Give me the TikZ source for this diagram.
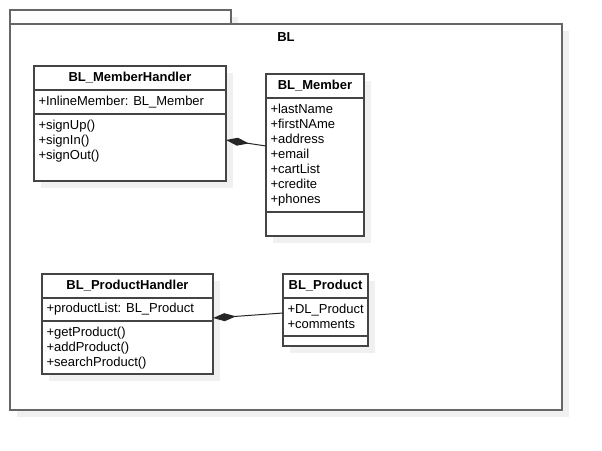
\documentclass[tikz,border=0pt]{standalone}
\usepackage{fontspec}
\setmainfont{Liberation Sans}
\usetikzlibrary{arrows.meta, positioning, backgrounds}

\definecolor{umlline}{HTML}{444444}
\definecolor{pkgline}{HTML}{666666}
\definecolor{umlshadow}{HTML}{F0F0F0}

\begin{document}
\begin{tikzpicture}[
  x=1pt, y=-1pt,
  every node/.style={font=\fontsize{13}{15}\selectfont, inner sep=0pt, outer sep=0pt},
  pkgbox/.style={draw=pkgline, line width=1.2pt},
  pkgtitle/.style={font=\fontsize{13}{15}\selectfont\bfseries},
  classhead/.style={draw=umlline, line width=1.1pt, fill=white, minimum height=24pt, font=\fontsize{13}{15}\selectfont\bfseries},
  classpart/.style={draw=umlline, line width=1.1pt, fill=white},
  members/.style={align=left, anchor=north west},
  compose/.style={{Diamond[length=23pt, width=8pt]}-, line width=1pt, black!85},
]
\useasboundingbox (0,0) rectangle (602,450);

% Package
\node[pkgbox, anchor=north west, minimum width=552pt, minimum height=386pt] (bl) at (10,24) {};
\node[pkgbox, anchor=south west, minimum width=221pt, minimum height=14pt] (bltab) at (bl.north west) {};
\node[pkgtitle, below=9pt of bl.north] (bltitle) {BL};

% BL_MemberHandler
\node[classhead, anchor=north west, minimum width=192pt] (mhHead) at (34,66) {BL\_MemberHandler};
\node[classpart, below=0pt of mhHead, minimum width=192pt, minimum height=24pt] (mhAttr) {};
\node[classpart, below=0pt of mhAttr, minimum width=192pt, minimum height=67pt] (mhOps) {};
\node[members] (mhAttrText) at ([shift={(4.5,6)}]mhAttr.north west) {+InlineMember: BL\_Member};
\node[members] (mhOpsText) at ([shift={(4.5,6)}]mhOps.north west) {+signUp()\\+signIn()\\+signOut()};

% BL_Member
\node[classhead, anchor=north west, minimum width=98pt] (mHead) at (266,74) {BL\_Member};
\node[classpart, below=0pt of mHead, minimum width=98pt, minimum height=114pt] (mAttr) {};
\node[classpart, below=0pt of mAttr, minimum width=98pt, minimum height=24pt] (mOps) {};
\node[members] (mAttrText) at ([shift={(4.5,6.5)}]mAttr.north west)
  {+lastName\\+firstNAme\\+address\\+email\\+cartList\\+credite\\+phones};

% BL_ProductHandler
\node[classhead, anchor=north west, minimum width=171pt] (phHead) at (42,274) {BL\_ProductHandler};
\node[classpart, below=0pt of phHead, minimum width=171pt, minimum height=23pt] (phAttr) {};
\node[classpart, below=0pt of phAttr, minimum width=171pt, minimum height=53pt] (phOps) {};
\node[members] (phAttrText) at ([shift={(4.5,5.5)}]phAttr.north west) {+productList: BL\_Product};
\node[members] (phOpsText) at ([shift={(4.5,6)}]phOps.north west) {+getProduct()\\+addProduct()\\+searchProduct()};

% BL_Product
\node[classhead, anchor=north west, minimum width=85pt] (pHead) at (283,274) {BL\_Product};
\node[classpart, below=0pt of pHead, minimum width=85pt, minimum height=38pt] (pAttr) {};
\node[classpart, below=0pt of pAttr, minimum width=85pt, minimum height=10pt] (pOps) {};
\node[members] (pAttrText) at ([shift={(4.5,6)}]pAttr.north west) {+DL\_Product\\+comments};

% Shadows
\begin{scope}[on background layer]
  \fill[umlshadow] ([shift={(7,7)}]bl.north west) rectangle ([shift={(7,7)}]bl.south east);
  \fill[umlshadow] ([shift={(7,7)}]bltab.north west) rectangle ([shift={(7,7)}]bltab.south east);
  \fill[white] (bltab.north west) rectangle (bltab.south east);
  \fill[white] (bl.north west) rectangle (bl.south east);
  \fill[umlshadow] ([shift={(7,7)}]mhHead.north west) rectangle ([shift={(7,7)}]mhOps.south east);
  \fill[umlshadow] ([shift={(7,7)}]mHead.north west) rectangle ([shift={(7,7)}]mOps.south east);
  \fill[umlshadow] ([shift={(7,7)}]phHead.north west) rectangle ([shift={(7,7)}]phOps.south east);
  \fill[umlshadow] ([shift={(7,7)}]pHead.north west) rectangle ([shift={(7,7)}]pOps.south east);
\end{scope}

% Compositions
\draw[compose] ([yshift=7.5pt]mhOps.east) -- ([yshift=9pt]mAttr.west);
\draw[compose] ([yshift=-8.5pt]phAttr.east) -- ([yshift=4pt]pAttr.west);

\end{tikzpicture}
\end{document}
